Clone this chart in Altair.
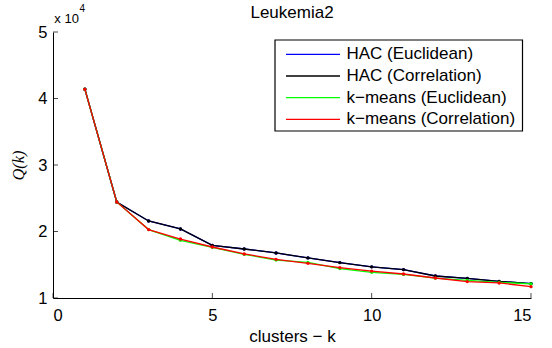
import altair as alt
import pandas as pd

# ---------------- data ----------------
k_values = list(range(1, 16))
hac_euclidean = [41400, 24440, 21580, 20380, 17920, 17370, 16770, 16020, 15320, 14690, 14270, 13310, 12960, 12510, 12170]
hac_correlation = [41400, 24440, 21580, 20380, 17920, 17370, 16770, 16020, 15320, 14690, 14270, 13310, 12960, 12510, 12170]
kmeans_euclidean = [41400, 24440, 20290, 18680, 17620, 16570, 15710, 15370, 14420, 13860, 13550, 12980, 12660, 12360, 12110]
kmeans_correlation = [41400, 24440, 20290, 18870, 17670, 16620, 15820, 15220, 14570, 14050, 13610, 13010, 12470, 12260, 11710]

series_names = ["HAC (Euclidean)", "HAC (Correlation)", "k\u2212means (Euclidean)", "k\u2212means (Correlation)"]
series_values = [hac_euclidean, hac_correlation, kmeans_euclidean, kmeans_correlation]
series_colors = ["#0000ff", "#000000", "#00ff00", "#ff0000"]

x_ticks = [0, 5, 10, 15]
y_ticks = [10000, 20000, 30000, 40000, 50000]

title_text = "Leukemia2"
x_title = "clusters \u2212 k"
y_title = "Q(k)"

# ---------------- layout ----------------
W, H = 478, 266
FONT = "Liberation Sans"

x_axis = alt.Axis(values=x_ticks, title=x_title, grid=False, ticks=False, tickSize=0,
                  labelFont=FONT, labelFontSize=16.5, labelColor="black", labelPadding=9,
                  domainColor="black", domainWidth=1,
                  titleFont=FONT, titleFontSize=17, titleFontWeight="normal", titleColor="black",
                  titleX=W / 2, titleY=43, titleBaseline="alphabetic", titleAlign="center")
y_axis = alt.Axis(values=y_ticks, title=y_title, grid=False, ticks=False, tickSize=0,
                  labelExpr="format(datum.value / 10000, 'd')",
                  labelFont=FONT, labelFontSize=16.5, labelColor="black", labelPadding=6,
                  domainColor="black", domainWidth=1,
                  titleFont="Liberation Serif", titleFontStyle="italic", titleFontSize=16.5,
                  titleFontWeight="normal", titleColor="black",
                  titleX=-35, titleY=H / 2, titleAngle=270, titleAlign="center", titleBaseline="middle")

x_enc = alt.X("k:Q", scale=alt.Scale(domain=[0, 15], nice=False, zero=False), axis=x_axis)
y_enc = alt.Y("Q:Q", scale=alt.Scale(domain=[10000, 50000], nice=False, zero=False), axis=y_axis)

layers = []
for name, vals, col in zip(series_names, series_values, series_colors):
    df = pd.DataFrame({"k": k_values, "Q": vals, "method": name})
    base = alt.Chart(df).encode(x=x_enc, y=y_enc)
    layers.append(base.mark_line(color=col, strokeWidth=1.3))
    layers.append(base.mark_circle(color=col, size=11, opacity=1))

# inward ticks
layers.append(alt.Chart(pd.DataFrame({"k": x_ticks})).mark_tick(
    orient="vertical", size=5, thickness=1, color="black").encode(x=x_enc, y=alt.value(H - 2.5)))
layers.append(alt.Chart(pd.DataFrame({"Q": y_ticks})).mark_tick(
    orient="horizontal", size=5, thickness=1, color="black").encode(y=y_enc, x=alt.value(2.5)))

# legend box
layers.append(alt.Chart(pd.DataFrame({"box": [0]})).mark_rect(
    fill="white", stroke="black", strokeWidth=1.2).encode(
    x=alt.value(222), x2=alt.value(469.5), y=alt.value(8), y2=alt.value(99)))
for i, (name, col) in enumerate(zip(series_names, series_colors)):
    ry = 22.3 + i * 21.7
    ldf = pd.DataFrame({"label": [name]})
    layers.append(alt.Chart(ldf).mark_rule(color=col, strokeWidth=1.3).encode(
        x=alt.value(233), x2=alt.value(287), y=alt.value(ry)))
    layers.append(alt.Chart(ldf).mark_text(
        align="left", baseline="middle", font=FONT, fontSize=17, color="black").encode(
        x=alt.value(293.5), y=alt.value(ry), text="label:N"))

# title and exponent annotation
layers.append(alt.Chart(pd.DataFrame({"t": [title_text]})).mark_text(
    align="center", baseline="alphabetic", font=FONT, fontSize=17, color="black").encode(
    x=alt.value(W / 2), y=alt.value(-13.7), text="t:N"))
layers.append(alt.Chart(pd.DataFrame({"t": ["x 10"]})).mark_text(
    align="left", baseline="alphabetic", font=FONT, fontSize=13, color="black").encode(
    x=alt.value(1.3), y=alt.value(-8.7), text="t:N"))
layers.append(alt.Chart(pd.DataFrame({"t": ["4"]})).mark_text(
    align="left", baseline="alphabetic", font=FONT, fontSize=10, color="black").encode(
    x=alt.value(26.5), y=alt.value(-20.3), text="t:N"))

chart = alt.layer(*layers).properties(
    width=W, height=H,
    autosize=alt.AutoSizeParams(type="none"),
    padding={"left": 53, "top": 32, "right": 552 - 53 - W, "bottom": 348 - 32 - H},
    background="white",
).configure_view(stroke=None)

chart.save("out.html", embed_options={"renderer": "svg", "actions": False})
